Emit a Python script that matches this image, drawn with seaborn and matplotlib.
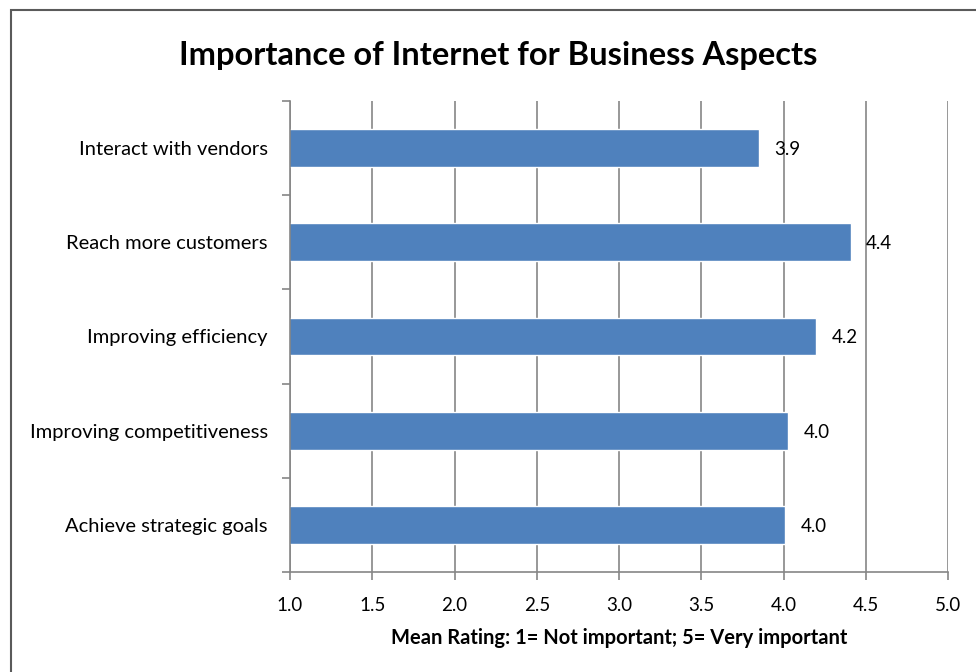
import numpy as np
import pandas as pd
import matplotlib
matplotlib.use("Agg")
import matplotlib.pyplot as plt
import seaborn as sns
from matplotlib.patches import Rectangle
from matplotlib.ticker import FixedLocator

# data
aspects = ["Interact with vendors", "Reach more customers", "Improving efficiency",
           "Improving competitiveness", "Achieve strategic goals"]
ratings = [3.85, 4.41, 4.20, 4.03, 4.01]
x_ticks = [1.0, 1.5, 2.0, 2.5, 3.0, 3.5, 4.0, 4.5, 5.0]

bar_blue = "#4F81BD"
axis_gray = "#868686"

sns.set_style("white")
plt.rcParams["font.family"] = ["Lato", "DejaVu Sans"]
plt.rcParams["text.color"] = "black"
plt.rcParams["xtick.color"] = "black"
plt.rcParams["ytick.color"] = "black"
plt.rcParams["axes.labelcolor"] = "black"

df = pd.DataFrame({"aspect": aspects, "rating": ratings})

fig = plt.figure(figsize=(9.76, 6.72), dpi=100)
ax = fig.add_axes([290 / 976, 1 - 572 / 672, 658 / 976, 471 / 672])

sns.barplot(data=df, x="rating", y="aspect", orient="h", color=bar_blue,
            width=0.4, saturation=1, ax=ax, zorder=3)

ax.set_xlim(1.0, 5.0)
ax.set_ylim(len(aspects) - 0.5, -0.5)
ax.set_xticks(x_ticks)
ax.set_xticklabels(["{:.1f}".format(v) for v in x_ticks], fontsize=13.5)
ax.set_yticks(range(len(aspects)))
ax.set_yticklabels(aspects, fontsize=14.5)
ax.yaxis.set_minor_locator(FixedLocator(np.arange(-0.5, len(aspects), 1.0)))
ax.tick_params(axis="y", which="major", length=0, pad=16)
ax.tick_params(axis="y", which="minor", length=6, width=1.2, color=axis_gray,
               left=True)
ax.tick_params(axis="x", which="major", length=6, width=1.2, color=axis_gray,
               bottom=True, pad=12)

ax.grid(True, axis="x", color=axis_gray, linewidth=1.2, zorder=0)
ax.grid(False, axis="y")
for side in ["top", "right"]:
    ax.spines[side].set_visible(False)
for side in ["left", "bottom"]:
    ax.spines[side].set_color(axis_gray)
    ax.spines[side].set_linewidth(1.2)
    ax.spines[side].set_zorder(4)

for i, v in enumerate(ratings):
    ax.annotate("{:.1f}".format(v), (v, i), xytext=(11, 0),
                textcoords="offset points", va="center_baseline", ha="left",
                fontsize=13.5, color="black")

ax.set_xlabel("Mean Rating: 1= Not important; 5= Very important",
              fontsize=14.5, fontweight="bold", labelpad=10)
ax.set_ylabel("")

fig.text(0.51, 1 - 56 / 672, "Importance of Internet for Business Aspects",
         ha="center", va="center", fontsize=23.5, fontweight="bold")

# outer chart border
fig.patches.append(Rectangle((11 / 976, -0.1), 1.2, 1.1 - 10 / 672,
                             transform=fig.transFigure, fill=False,
                             edgecolor="#5a5a5a", linewidth=1.5))

fig.savefig("out.png", dpi=100)
